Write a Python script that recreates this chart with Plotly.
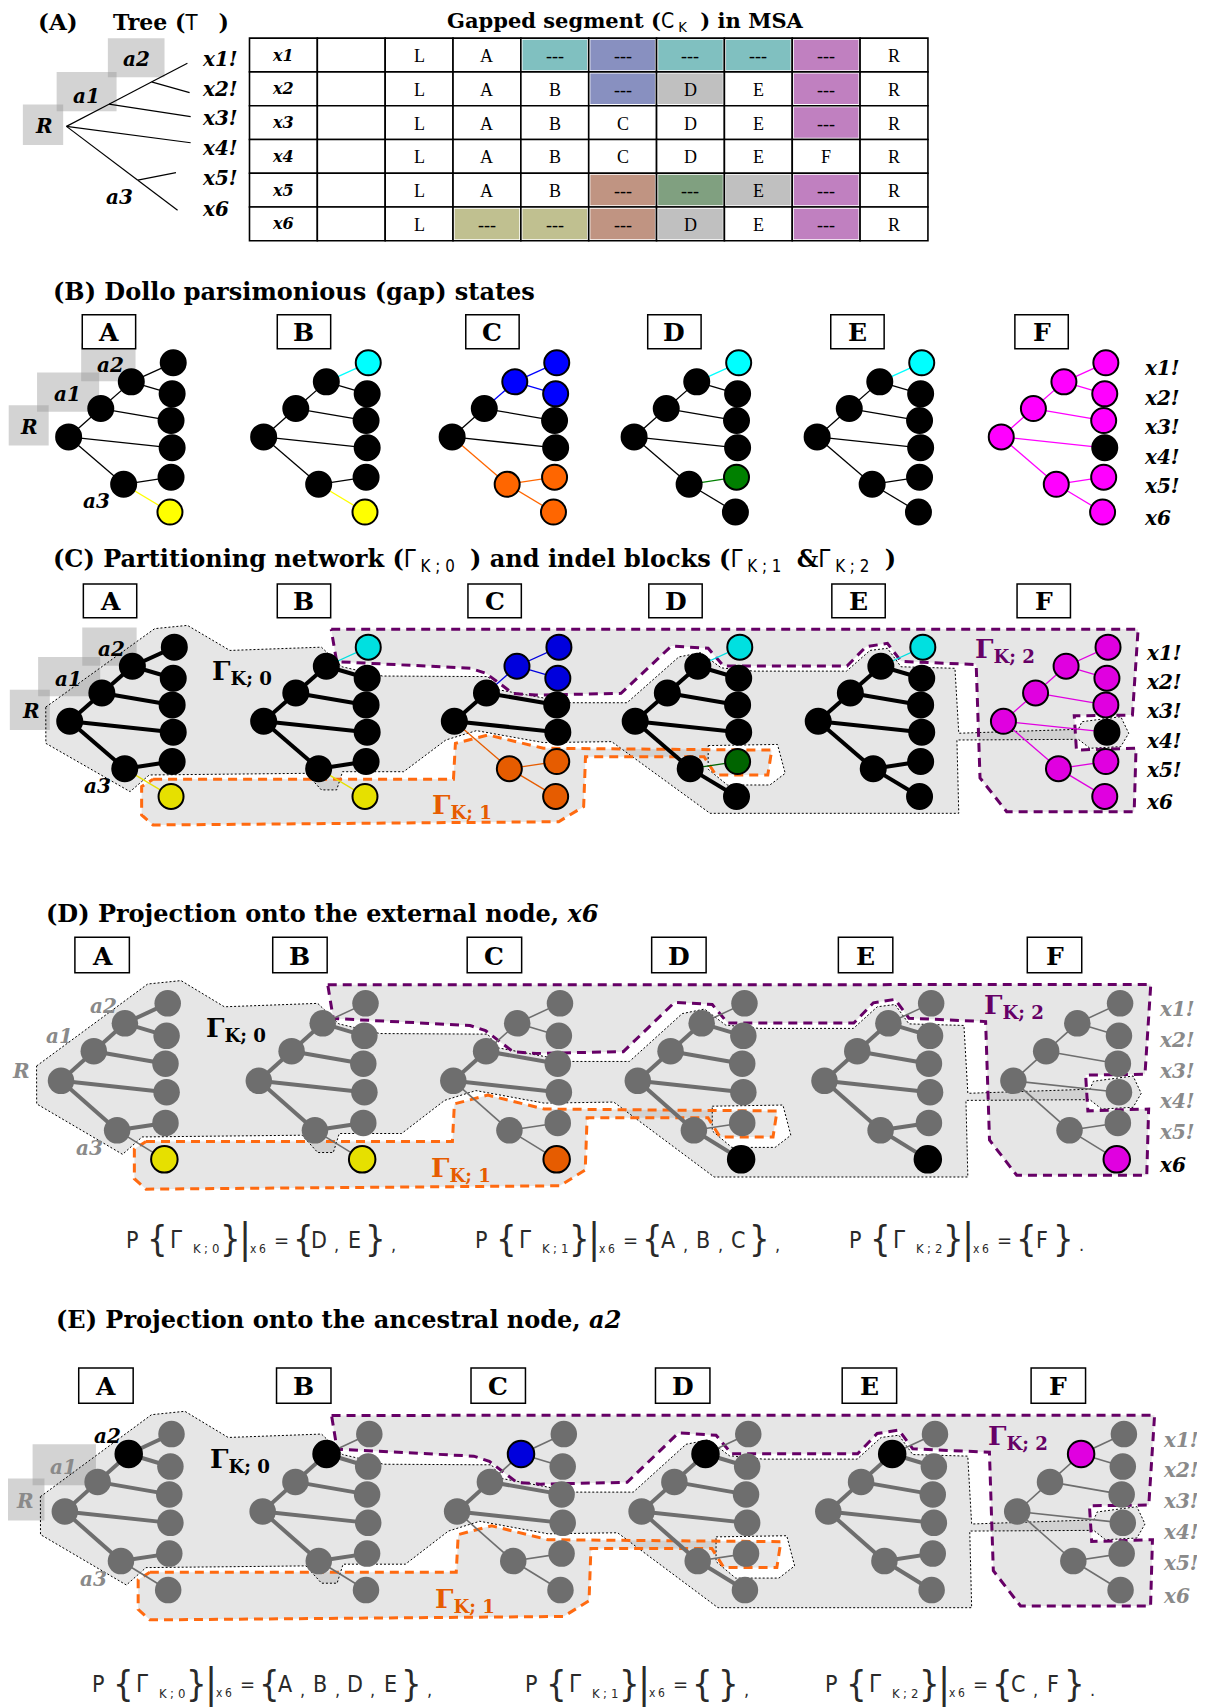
import plotly.graph_objects as go

# The page body has an 8px margin, so the figure is drawn 8px smaller and the
# drawing window is shifted by the same amount.
W, H = 1197, 1700
PX = 1205 / 1106                 # pixels per drawing unit
OFF = 8 / PX                     # body-margin compensation, in units
UX0, UY0 = OFF, OFF
UX1, UY1 = OFF + W / PX, OFF + H / PX

SERIF = "DejaVu Serif, Liberation Serif, serif"
TIMES = "Liberation Serif, Times New Roman, serif"
NARROW = "Liberation Sans Narrow, DejaVu Sans Condensed, Roboto, sans-serif"
NB = "\u00a0"

# ------------------------------------------------------------------ data
taxa = ["x1", "x2", "x3", "x4", "x5", "x6"]
taxa_labels = ["x1!", "x2!", "x3!", "x4!", "x5!", "x6"]
sites = ["A", "B", "C", "D", "E", "F"]

# MSA rows: blank, L, A, B, C, D, E, F, R
msa_cells = [
    ["", "L", "A", "---", "---", "---", "---", "---", "R"],
    ["", "L", "A", "B", "---", "D", "E", "---", "R"],
    ["", "L", "A", "B", "C", "D", "E", "---", "R"],
    ["", "L", "A", "B", "C", "D", "E", "F", "R"],
    ["", "L", "A", "B", "---", "---", "E", "---", "R"],
    ["", "L", "---", "---", "---", "D", "E", "---", "R"],
]
msa_shade = [
    ["", "", "", "teal", "slate", "teal", "teal", "orchid", ""],
    ["", "", "", "", "slate", "grey", "", "orchid", ""],
    ["", "", "", "", "", "", "", "orchid", ""],
    ["", "", "", "", "", "", "", "", ""],
    ["", "", "", "", "rose", "sage", "grey", "orchid", ""],
    ["", "", "olive", "olive", "rose", "grey", "", "orchid", ""],
]
# Dollo-parsimonious gap states of the internal nodes
ancestral_gaps = {
    "C": {"a2": "slate", "a3": "rose"},
    "F": {"R": "orchid", "a1": "orchid", "a2": "orchid", "a3": "orchid"},
}
tree_edges = [("R", "a1"), ("a1", "a2"), ("a2", "x1"), ("a2", "x2"), ("a1", "x3"),
              ("R", "x4"), ("R", "a3"), ("a3", "x5"), ("a3", "x6")]
proj_x6 = [("0", ["D", "E"], ","), ("1", ["A", "B", "C"], ","), ("2", ["F"], ".")]
proj_a2 = [("0", ["A", "B", "D", "E"], ","), ("1", [], ","), ("2", ["C", "F"], ".")]

# ------------------------------------------------------------------ styles
SHADE_TABLE = {"teal": "#80c0c0", "slate": "#8890c0", "orchid": "#c080c0", "grey": "#c0c0c0",
               "rose": "#c09482", "sage": "#80a080", "olive": "#c0c090"}
NODE_VIVID = {"teal": "#00ffff", "slate": "#0000ff", "orchid": "#ff00ff",
              "rose": "#ff6600", "sage": "#008000", "olive": "#ffff00"}
NODE_DEEP = {"teal": "#00e0e0", "slate": "#0000dd", "orchid": "#e000e0",
             "rose": "#e65c00", "sage": "#006400", "olive": "#e6e000"}
GREY = "#6e6e6e"
LABEL_GREY = "#8a8a8a"
ORANGE = "#ff6a10"
ORANGE_TXT = "#e65c00"
PURPLE = "#660066"
REGION_FILL = "rgba(120,120,120,0.19)"
BOX_GREY = "rgba(150,150,150,0.42)"

TREE_LAYOUT = {"R": (0, 0), "a1": (29.5, -26), "a2": (57.5, -50.5), "a3": (50.5, 43.5),
               "x1": (96, -68), "x2": (95, -39.5), "x3": (94, -15), "x4": (95, 10),
               "x5": (94, 37), "x6": (93, 69)}

fig = go.Figure()
shapes, annos = [], []


def text(x, y, s, size, color="black", family=SERIF, xanchor="left", yanchor="middle"):
    annos.append(dict(x=x, y=y, xref="x", yref="y", text=s, showarrow=False,
                      xanchor=xanchor, yanchor=yanchor,
                      font=dict(size=size, color=color, family=family)))


def rect(x0, y0, x1, y1, fill="rgba(0,0,0,0)", line="rgba(0,0,0,0)", lw=0, layer="above"):
    shapes.append(dict(type="rect", xref="x", yref="y", x0=x0, y0=y0, x1=x1, y1=y1,
                       fillcolor=fill, line=dict(color=line, width=lw), layer=layer))


def fill_poly(pts, color):
    xs = [p[0] for p in pts] + [pts[0][0]]
    ys = [p[1] for p in pts] + [pts[0][1]]
    fig.add_trace(go.Scatter(x=xs, y=ys, mode="lines", fill="toself", fillcolor=color,
                             line=dict(width=0, color=color), hoverinfo="skip"))


def outline(pts, color, width, dash):
    xs = [p[0] for p in pts] + [pts[0][0]]
    ys = [p[1] for p in pts] + [pts[0][1]]
    fig.add_trace(go.Scatter(x=xs, y=ys, mode="lines",
                             line=dict(width=width, color=color, dash=dash), hoverinfo="skip"))


def segments(segs, color, width):
    xs, ys = [], []
    for (a, b) in segs:
        xs += [a[0], b[0], None]
        ys += [a[1], b[1], None]
    fig.add_trace(go.Scatter(x=xs, y=ys, mode="lines", line=dict(color=color, width=width),
                             hoverinfo="skip"))


def node_state(site, node):
    if node in taxa:
        r = taxa.index(node)
        c = 2 + sites.index(site)
        return msa_shade[r][c] if msa_cells[r][c] == "---" else None
    return ancestral_gaps.get(site, {}).get(node)


def edge_state(site, p, c):
    return node_state(site, c) or node_state(site, p)


THIN = "<span style='font-family:Liberation Sans Narrow, DejaVu Sans Condensed, sans-serif;font-weight:normal'>"

# ------------------------------------------------------------------ (A)
text(33, 20, "<b>(A)</b>", 23)
text(102, 20, "<b>Tree (</b>" + THIN + "T</span>" + NB * 3 + "<b>)</b>", 22)
text(408, 20, "<b>Gapped segment (</b>" + THIN + "C<sub>" + NB + "K</sub></span>" + NB * 2 +
     "<b>) in MSA</b>", 21)

TREE_A = {"R": (61, 116), "a1": (100, 95.6), "a2": (139, 75.2), "a3": (126.5, 165.4),
          "x1": (172, 58), "x2": (174, 85), "x3": (175, 107), "x4": (175, 131),
          "x5": (161.5, 158.5), "x6": (163, 193)}
rect(99, 35, 151, 71, fill=BOX_GREY, layer="below")
rect(52, 66, 107, 102, fill=BOX_GREY, layer="below")
rect(21, 96, 58, 133, fill=BOX_GREY, layer="below")
segments([(TREE_A[p], TREE_A[c]) for p, c in tree_edges], "black", 1.2)
for lab, (x, y) in {"a2": (125, 54), "a1": (79, 88), "R": (40, 116), "a3": (110, 181)}.items():
    text(x, y, f"<b><i>{lab}</i></b>", 20, xanchor="center")
for i, lab in enumerate(taxa_labels):
    text(184, [54, 82, 108, 135.5, 163.5, 191.5][i], f"<b><i>{lab}</i></b>", 20)

# MSA table
TX0, TY0, CW, RH = 229, 35, 62.27, 31
for r, t in enumerate(taxa):
    row = [t] + msa_cells[r]
    shade = [""] + msa_shade[r]
    for c, val in enumerate(row):
        x0, y0 = TX0 + c * CW, TY0 + r * RH
        rect(x0, y0, x0 + CW, y0 + RH, fill="white", line="black", lw=1.6)
        if shade[c]:
            rect(x0 + 1.5, y0 + 1.5, x0 + CW - 1.5, y0 + RH - 1.5, fill=SHADE_TABLE[shade[c]])
        if c == 0:
            text(x0 + CW / 2, y0 + RH / 2, f"<b><i>{val}</i></b>", 16, xanchor="center")
        elif val:
            text(x0 + CW / 2, y0 + RH / 2 + 1, val, 18, family=TIMES, xanchor="center")

# ------------------------------------------------------------------ sections B-E geometry
ROOTS_B = [(x, 401) for x in [63, 242, 415, 582, 750, 919]]
ROOTS_C = [(x, 662) for x in [64, 242, 417, 583, 751, 921]]


def T_C(p):
    return (p[0], p[1])


def T_D(p):
    return (1.02 * (p[0] - 64) + 56, 1.045 * (p[1] - 662) + 992)


def T_E(p):
    q = T_D(p)
    return (q[0] + 3.5, q[1] + 395.3)


G0 = [(42, 649), (142, 577), (172, 574), (211, 597), (295, 594), (314, 612), (351, 620.5),
      (448, 621), (457, 633), (523, 645), (575.5, 645), (623, 603), (643, 599), (662, 613),
      (692, 616), (777, 616), (798.5, 597), (814.5, 595), (827, 612), (876.5, 613.4),
      (880, 673), (989.8, 669.4), (993, 662.4), (1028.7, 657.8), (1036, 673),
      (1028.7, 685.3), (1000.4, 686.8), (989.8, 678.6), (878.3, 679.2), (880, 746.5),
      (651.7, 746.5), (561.4, 680.7), (498.8, 681.6), (437.3, 670.6), (409.2, 679.2),
      (370.5, 708.3), (314.4, 708.3), (309, 725), (295, 725), (281, 709.8), (137, 711.3),
      (119.4, 726.6), (42.1, 682.3)]
G1 = [(140.5, 715.3), (416.2, 715.3), (418, 682.3), (448, 674.6), (498.8, 686.8),
      (708.3, 688.5), (704.7, 711.3), (657, 711.3), (646.2, 694.5), (537.4, 694.5),
      (535.7, 740.4), (512.8, 754.2), (140.5, 757.2), (130, 748), (130, 722)]
G2 = [(304, 577.6), (1044.6, 577.5), (1039.4, 656.3), (986, 657), (988, 688.4),
      (1042.7, 686.8), (1041, 745), (924, 745), (899.5, 714), (896, 610), (827, 607),
      (814.5, 590.5), (795, 593.5), (777.4, 611.3), (664, 611.3), (650, 595), (616.2, 593),
      (570, 636.4), (491.8, 638), (470.7, 636.4), (446, 618), (432, 613.4), (309, 607.3)]
GW = [(650, 684.3), (713.6, 683.3), (720.7, 709.8), (706.6, 720.5), (667.6, 720.5), (650, 706)]


def draw_regions(T):
    P = lambda pts: [T(p) for p in pts]
    fill_poly(P(G0), REGION_FILL)
    fill_poly(P(GW), "white")
    fill_poly(P(G1), REGION_FILL)
    fill_poly(P(G2), REGION_FILL)
    outline(P(G0), "black", 1, "2px,2px")
    outline(P(GW), "black", 1, "2px,2px")
    outline(P(G1), ORANGE, 3, "9px,6px")
    outline(P(G2), PURPLE, 3, "9px,6px")
    for lab, (x, y), col in [("0", (193, 617), "black"), ("1", (395, 740), ORANGE_TXT),
                             ("2", (893, 597), PURPLE)]:
        q = T((x, y))
        text(q[0], q[1], f"<b>Γ<sub>K; {lab}</sub></b>", 26, color=col)


def draw_trees(section, T, sx, sy, size):
    roots = ROOTS_B if section == "B" else [T(r) for r in ROOTS_C]
    seg_groups, node_groups = {}, {}
    for s, root in zip(sites, roots):
        pos = {n: (root[0] + dx * sx, root[1] + dy * sy) for n, (dx, dy) in TREE_LAYOUT.items()}
        for p, c in tree_edges:
            st = edge_state(s, p, c)
            if section == "B":
                key = (NODE_VIVID[st] if st else "black", 1.3)
            elif section == "C":
                key = (NODE_DEEP[st] if st else "black", 1.3 if st else 4)
            else:
                key = (GREY, 1.6 if st else 4)
            seg_groups.setdefault(key, []).append((pos[p], pos[c]))
        for n in TREE_LAYOUT:
            st = node_state(s, n)
            if section == "B":
                col, lc = (NODE_VIVID[st] if st else "black"), "black"
            elif section == "C":
                col, lc = (NODE_DEEP[st] if st else "black"), "black"
            else:
                focus = "x6" if section == "D" else "a2"
                if n == focus:
                    col, lc = (NODE_DEEP[st] if st else "black"), "black"
                else:
                    col, lc = GREY, GREY
            node_groups.setdefault((col, lc), []).append(pos[n])
    for (col, w), segs in seg_groups.items():
        segments(segs, col, w)
    for (col, lc), pts in node_groups.items():
        fig.add_trace(go.Scatter(x=[p[0] for p in pts], y=[p[1] for p in pts], mode="markers",
                                 marker=dict(size=size, color=col,
                                             line=dict(color=lc, width=2 if lc == "black" else 0)),
                                 hoverinfo="skip"))
    return roots


def panel_boxes(roots, top, sx=1.0, sy=1.0):
    for s, root in zip(sites, roots):
        x0, x1 = root[0] + 12.5 * sx, root[0] + 61.5 * sx
        y0, y1 = top, top + 31 * sy
        rect(x0, y0, x1, y1, fill="white", line="black", lw=1.5)
        text((x0 + x1) / 2, (y0 + y1) / 2 + 1, f"<b>{s}</b>", 25, xanchor="center")


def side_labels(root_a, root_f, sx, sy, style):
    rel = {"a2": (38, -66), "a1": (-1, -39), "R": (-36, -9), "a3": (25.6, 59)}
    boxes = {"a2": (11.5, 61.4, -86, -51), "a1": (-29, 28, -59, -23), "R": (-55, -18.3, -29, 8)}
    for n, (dx, dy) in rel.items():
        col, boxed = style[n]
        if boxed:
            b = boxes[n]
            rect(root_a[0] + b[0] * sx, root_a[1] + b[2] * sy, root_a[0] + b[1] * sx,
                 root_a[1] + b[3] * sy, fill=BOX_GREY, layer="below")
        text(root_a[0] + dx * sx, root_a[1] + dy * sy, f"<b><i>{n}</i></b>", 20, color=col,
             xanchor="center")
    for i, lab in enumerate(taxa_labels):
        col = style[taxa[i]]
        text(root_f[0] + 129 * sx, root_f[1] + [-63, -36, -9, 18, 45, 74][i] * sy,
             f"<b><i>{lab}</i></b>", 20, color=col)


# ------------------------------------------------------------------ (B)
text(47, 268, "<b>(B) Dollo parsimonious (gap) states</b>", 24)
rb = draw_trees("B", T_C, 1, 1, 25)
panel_boxes(rb, 289)
stB = {"a2": ("black", True), "a1": ("black", True), "R": ("black", True), "a3": ("black", False)}
stB.update({t: "black" for t in taxa})
side_labels(rb[0], rb[5], 1, 1, stB)

# ------------------------------------------------------------------ (C)
sub = lambda k: (THIN + "Γ<sub>" + NB + "K" + NB + ";" + NB + k + "</sub></span>" + NB * 2)
text(47, 514, "<b>(C) Partitioning network (</b>" + sub("0") + "<b>) and indel blocks (</b>" +
     sub("1") + "<b>&amp;</b>" + sub("2") + "<b>)</b>", 24)
draw_regions(T_C)
rc = draw_trees("C", T_C, 1, 1, 25)
panel_boxes(rc, 536)
side_labels(rc[0], rc[5], 1, 1, stB)

# ------------------------------------------------------------------ (D)
text(40, 838, "<b>(D) Projection onto the external node, <i>x6</i></b>", 24)
draw_regions(T_D)
rd = draw_trees("D", T_D, 1.02, 1.045, 26.5)
panel_boxes(rd, T_D((0, 536))[1], sx=1.02, sy=1.045)
stD = {"a2": (LABEL_GREY, False), "a1": (LABEL_GREY, False), "R": (LABEL_GREY, False),
       "a3": (LABEL_GREY, False)}
stD.update({t: LABEL_GREY for t in taxa})
stD["x6"] = "black"
side_labels(rd[0], rd[5], 1.02, 1.045, stD)

# ------------------------------------------------------------------ (E)
text(50, 1211, "<b>(E) Projection onto the ancestral node, <i>a2</i></b>", 24)
draw_regions(T_E)
re_ = draw_trees("E", T_E, 1.02, 1.045, 26.5)
panel_boxes(re_, T_E((0, 536))[1], sx=1.02, sy=1.045)
stE = {"a2": ("black", False), "a1": (LABEL_GREY, True), "R": (LABEL_GREY, True),
       "a3": (LABEL_GREY, False)}
stE.update({t: LABEL_GREY for t in taxa})
side_labels(re_[0], re_[5], 1.02, 1.045, stE)


# ------------------------------------------------------------------ projection formulas
def formula(x0, y, k, members, end):
    u = 1 / PX                       # token offsets below are in pixels
    col, fam = "#2a2a2a", NARROW

    def tok(dx, s, size, dy=0):
        text(x0 + dx * u, y + dy * u, s, size, color=col, family=fam, xanchor="center")

    tok(0, "P", 23)
    tok(25, "{", 36, -1)
    tok(44, "Γ", 24)
    tok(65, "K", 13, 9)
    tok(74, ";", 13, 9)
    tok(83, k, 13, 9)
    tok(98, "}", 36, -1)
    tok(113, "|", 40, -1)
    tok(121, "x", 12, 9)
    tok(130, "6", 12, 9)
    tok(149, "=", 20)
    tok(171, "{", 36, -1)
    if members:
        for i, m in enumerate(members):
            tok(187 + 35 * i, m, 23)
            if i < len(members) - 1:
                tok(204 + 35 * i, ",", 18, 5)
        close = 187 + 35 * (len(members) - 1) + 21
    else:
        close = 197
    tok(close, "}", 36, -1)
    tok(close + 18, end, 18, 5)


for (k, mem, end), x in zip(proj_x6, [132, 481, 855]):
    formula(x / PX, 1138, k, mem, end)
for (k, mem, end), x in zip(proj_a2, [98, 531, 831]):
    formula(x / PX, 1546, k, mem, end)

fig.update_layout(
    width=W, height=H, autosize=False, showlegend=False,
    margin=dict(l=0, r=0, t=0, b=0), paper_bgcolor="white", plot_bgcolor="white",
    xaxis=dict(range=[UX0, UX1], visible=False, fixedrange=True),
    yaxis=dict(range=[UY1, UY0], visible=False, fixedrange=True),
    shapes=shapes, annotations=annos,
)
fig.write_html("out.html")
